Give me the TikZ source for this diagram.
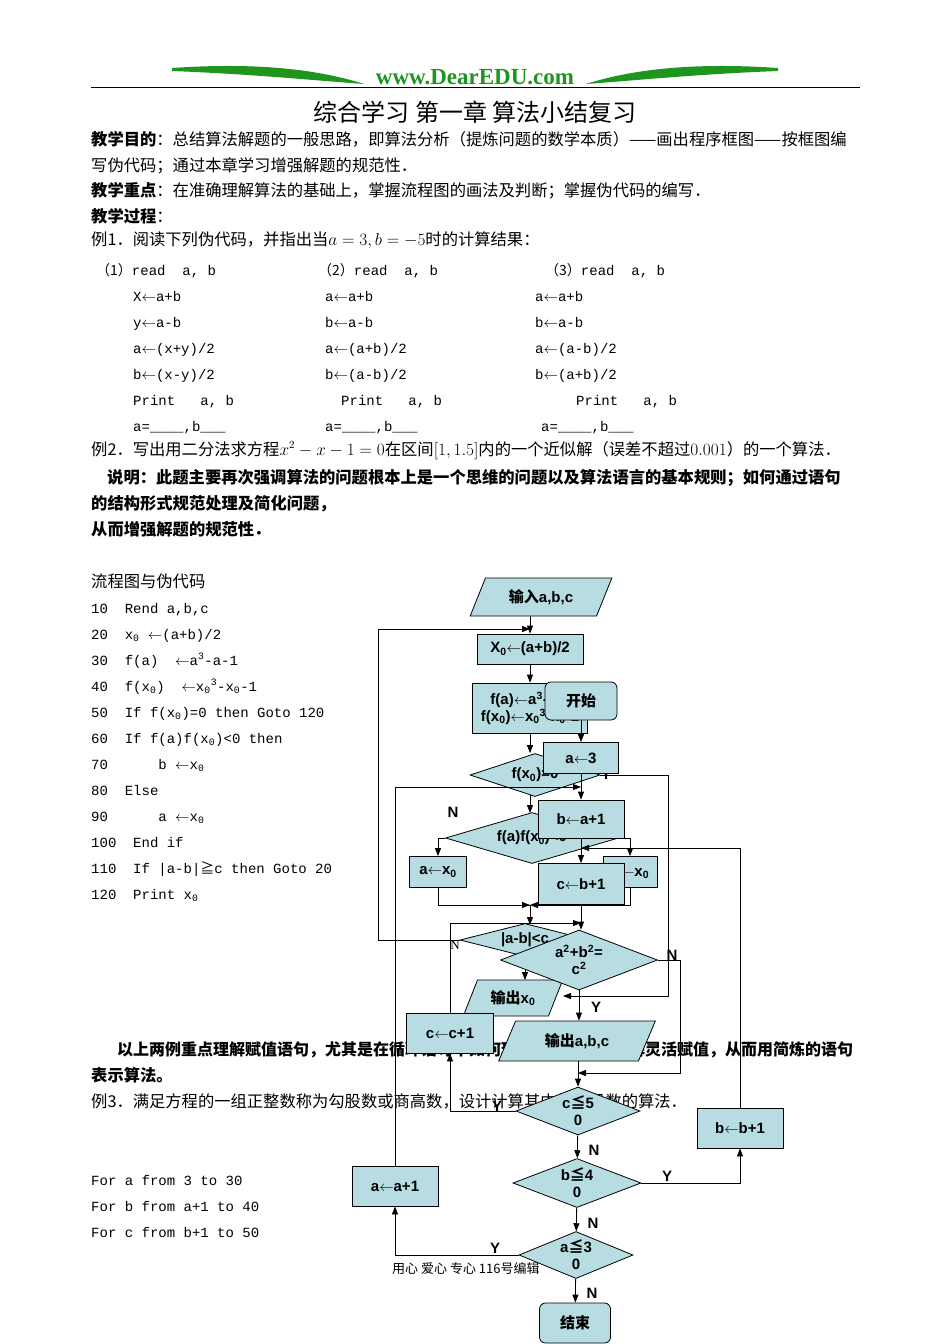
\documentclass[tikz,border=0pt]{standalone}
\usepackage{fontspec}
\setmainfont{Liberation Serif}
\setsansfont{Liberation Sans}
\setmonofont{Liberation Mono}
\newfontfamily\cjk{Noto Sans CJK SC}
\usetikzlibrary{shapes.geometric,arrows.meta}
\definecolor{fc}{RGB}{183,221,226}
\definecolor{dgreen}{RGB}{30,150,30}
\begin{document}
\begin{tikzpicture}[x=1pt,y=-1pt,
  txt/.style={anchor=base west,inner sep=0,font=\fontsize{16.3}{18}\selectfont\cjk},
  code/.style={anchor=base west,inner sep=0,font=\fontsize{14}{17}\selectfont\ttfamily},
  box/.style={draw,fill=fc,inner sep=1pt,font=\fontsize{15}{17}\selectfont\sffamily\bfseries,line width=0.8pt},
  rbox/.style={box,rounded corners=6pt},
  dia/.style={draw,fill=fc,diamond,aspect=2.6,inner sep=0,font=\fontsize{15}{17}\selectfont\sffamily\bfseries,line width=0.8pt,align=center},
  para/.style={draw,fill=fc,trapezium,trapezium left angle=60,trapezium right angle=120,trapezium stretches=true,inner sep=0,font=\fontsize{15}{17}\selectfont\sffamily\bfseries,line width=0.8pt},
  arr/.style={line width=0.8pt,-{Triangle[length=8pt,width=6pt]}},
  ln/.style={line width=0.8pt},
  lab/.style={inner sep=0,font=\fontsize{15}{17}\selectfont\sffamily\bfseries}]
\useasboundingbox[fill=white] (0,0) rectangle (950,1344);
% header
\fill[dgreen] (172,68) .. controls (260,62) and (320,70) .. (364,84) .. controls (310,80) and (250,74) .. (172,71) -- cycle;
\fill[dgreen] (778,68) .. controls (690,62) and (630,70) .. (586,84) .. controls (640,80) and (700,74) .. (778,71) -- cycle;
\node[inner sep=0,text=dgreen,font=\fontsize{23}{24}\selectfont\bfseries] (web) at (475,77) {www.DearEDU.com};
\draw[line width=1pt] (91,87) -- (860,87);
\node[inner sep=0,font=\fontsize{24}{26}\selectfont\cjk] (title) at (475,112) {综合学习 第一章 算法小结复习};
\node[txt] (t1) at (91,145) {{\bfseries 教学目的}：总结算法解题的一般思路，即算法分析（提炼问题的数学本质）——画出程序框图——按框图编};
\node[txt] (t2) at (91,171) {写伪代码；通过本章学习增强解题的规范性．};
\node[txt] (t3) at (91,196) {{\bfseries 教学重点}：在准确理解算法的基础上，掌握流程图的画法及判断；掌握伪代码的编写．};
\node[txt] (t4) at (91,222) {{\bfseries 教学过程}：};
\node[txt] (t5) at (91,245) {例1．阅读下列伪代码，并指出当$a=3,b=-5$时的计算结果：};
% code columns
\node[code] (c1a) at (96,275) {{\cjk （1）}read~~a,~b};
\node[code] (c1b) at (133,301) {X$\leftarrow$a+b};
\node[code] (c1c) at (133,327) {y$\leftarrow$a-b};
\node[code] (c1d) at (133,353) {a$\leftarrow$(x+y)/2};
\node[code] (c1e) at (133,379) {b$\leftarrow$(x-y)/2};
\node[code] (c1f) at (133,405) {Print~~~a,~b};
\node[code] (c1g) at (133,431) {a=\_\_\_\_,b\_\_\_};
\node[code] (c2a) at (318,275) {{\cjk （2）}read~~a,~b};
\node[code] (c2b) at (325,301) {a$\leftarrow$a+b};
\node[code] (c2c) at (325,327) {b$\leftarrow$a-b};
\node[code] (c2d) at (325,353) {a$\leftarrow$(a+b)/2};
\node[code] (c2e) at (325,379) {b$\leftarrow$(a-b)/2};
\node[code] (c2f) at (341,405) {Print~~~a,~b};
\node[code] (c2g) at (325,431) {a=\_\_\_\_,b\_\_\_};
\node[code] (c3a) at (545,275) {{\cjk （3）}read~~a,~b};
\node[code] (c3b) at (535,301) {a$\leftarrow$a+b};
\node[code] (c3c) at (535,327) {b$\leftarrow$a-b};
\node[code] (c3d) at (535,353) {a$\leftarrow$(a-b)/2};
\node[code] (c3e) at (535,379) {b$\leftarrow$(a+b)/2};
\node[code] (c3f) at (576,405) {Print~~~a,~b};
\node[code] (c3g) at (541,431) {a=\_\_\_\_,b\_\_\_};
\node[txt] (t6) at (91,455) {例2．写出用二分法求方程$x^2-x-1=0$在区间$\left[1,1.5\right]$内的一个近似解（误差不超过$0.001$）的一个算法．};
\node[txt] (t7) at (107,483) {\bfseries 说明：此题主要再次强调算法的问题根本上是一个思维的问题以及算法语言的基本规则；如何通过语句};
\node[txt] (t8) at (91,509) {\bfseries 的结构形式规范处理及简化问题，};
\node[txt] (t9) at (91,535) {\bfseries 从而增强解题的规范性．};
\node[txt] (t10) at (91,587) {流程图与伪代码};
\node[code] (p1) at (91,613) {10~~Rend a,b,c};
\node[code] (p2) at (91,639) {20~~x\textsubscript{0} $\leftarrow$(a+b)/2};
\node[code] (p3) at (91,665) {30~~f(a)~~$\leftarrow$a\textsuperscript{3}-a-1};
\node[code] (p4) at (91,691) {40~~f(x\textsubscript{0})~~$\leftarrow$x\textsubscript{0}\textsuperscript{3}-x\textsubscript{0}-1};
\node[code] (p5) at (91,717) {50~~If f(x\textsubscript{0})=0 then Goto 120};
\node[code] (p6) at (91,743) {60~~If f(a)f(x\textsubscript{0})<0 then};
\node[code] (p7) at (91,769) {70~~~~~~b $\leftarrow$x\textsubscript{0}};
\node[code] (p8) at (91,795) {80~~Else};
\node[code] (p9) at (91,821) {90~~~~~~a $\leftarrow$x\textsubscript{0}};
\node[code] (p10) at (91,847) {100~~End if};
\node[code] (p11) at (91,873) {110~~If |a-b|{\cjk ≧}c then Goto 20};
\node[code] (p12) at (91,899) {120~~Print x\textsubscript{0}};
% ---------- program 1 (bisection) ----------
\node[para,minimum width=142,minimum height=38] (in) at (541,597) {{\cjk\bfseries 输入}a,b,c};
\node[box,minimum width=106,minimum height=30] (x0) at (530,649) {X\textsubscript{0}$\leftarrow$(a+b)/2};
\node[box,minimum width=115,minimum height=50,align=center] (fa) at (530,708) {f(a)$\leftarrow$a\textsuperscript{3}-a-1\\f(x\textsubscript{0})$\leftarrow$x\textsubscript{0}\textsuperscript{3}-x\textsubscript{0}-1};
\node[dia,minimum width=130,minimum height=43] (fx) at (535,775) {f(x\textsubscript{0})=0};
\node[dia,minimum width=173,minimum height=51] (fab) at (532,838) {f(a)f(x\textsubscript{0})<0};
\node[box,minimum width=57,minimum height=31] (axo) at (438,872) {a$\leftarrow$x\textsubscript{0}};
\node[box,minimum width=54,minimum height=31] (bxo) at (630,872) {b$\leftarrow$x\textsubscript{0}};
\node[dia,minimum width=130,minimum height=33] (dab) at (525,940) {|a-b|<c};
\node[para,minimum width=100,minimum height=36] (ox) at (513,998) {{\cjk\bfseries 输出}x\textsubscript{0}};
\coordinate (j1) at (530,629);
\coordinate (j3) at (530,905);
\draw[arr] (x0.north |- in.south) -- (x0.north);
\draw[arr] (x0) -- (fa);
\draw[arr] (fa.south) -- (fa.south |- fx.north);
\draw[arr] (530,795) -- (530,813);
\draw[arr] (fab.west) -| (axo.north);
\draw[arr] (fab.east) -| (bxo.north);
\draw[ln] (axo.south) |- (j3);
\draw[arr] (bxo.south) |- (j3);
\draw[arr] (axo.south |- j3) -- (j3);
\draw[arr] (j3) -- (530,925);
\draw[arr] (dab.west) -- (378,940) -- (378,629) -- (j1);
\draw[arr] (fx.east) -- (668,775) -- (668,996) -- (563,996);
\draw[arr] (dab.south) -- (525,980);
\node[lab] (nfx) at (453,812) {N};
\node[lab,font=\fontsize{13}{14}\selectfont] (ndab) at (455,945) {N};
\node[lab] (yfx) at (606,774) {Y};
% text between
\node[txt,font=\fontsize{16}{18}\selectfont\cjk] (t11) at (117,1055) {\bfseries 以上两例重点理解赋值语句，尤其是在循环语句中如何理解赋值语句，理解灵活赋值，从而用简炼的语句};
\node[txt] (t12) at (91,1081) {\bfseries 表示算法。};
\node[txt] (t13) at (91,1107) {例3．满足方程的一组正整数称为勾股数或商高数，设计计算其中的勾股数的算法．};
\node[code] (f1) at (91,1185) {For a from 3 to 30};
\node[code] (f2) at (91,1211) {For b from a+1 to 40};
\node[code] (f3) at (91,1237) {For c from b+1 to 50};
\node[txt,font=\fontsize{13}{15}\selectfont\cjk] (foot) at (392,1273) {用心 爱心 专心 116号编辑};
% ---------- program 2 (Pythagorean) ----------
\node[rbox,minimum width=72,minimum height=38] (st) at (581,701) {\cjk 开始};
\node[box,minimum width=75,minimum height=31] (a3) at (581,758) {a$\leftarrow$3};
\node[box,minimum width=86,minimum height=38] (ba1) at (581,819) {b$\leftarrow$a+1};
\node[box,minimum width=86,minimum height=41] (cb1) at (581,884) {c$\leftarrow$b+1};
\node[dia,minimum width=157,minimum height=60] (py) at (579,960) {a\textsuperscript{2}+b\textsuperscript{2}=\\c\textsuperscript{2}\hspace{1.5em}};
\node[para,minimum width=157,minimum height=40] (oabc) at (577,1041) {{\cjk\bfseries 输出}a,b,c};
\node[dia,minimum width=124,minimum height=48] (c50) at (578,1111) {c{\cjk ≦}5\\0};
\node[dia,minimum width=128,minimum height=49] (b40) at (577,1183) {b{\cjk ≦}4\\0};
\node[dia,minimum width=114,minimum height=47] (a30) at (576,1255) {a{\cjk ≦}3\\0};
\node[rbox,minimum width=71,minimum height=40] (en) at (575,1323) {\cjk 结束};
\node[box,minimum width=87,minimum height=40] (cc1) at (450,1033) {c$\leftarrow$c+1};
\node[box,minimum width=86,minimum height=40] (bb1) at (740,1128) {b$\leftarrow$b+1};
\node[box,minimum width=86,minimum height=40] (aa1) at (395,1186) {a$\leftarrow$a+1};
\coordinate (j4) at (581,787);
\coordinate (j5) at (581,848);
\coordinate (j6) at (581,923);
\coordinate (j7) at (578,1073);
\draw[arr] (st) -- (a3);
\draw[arr] (a3) -- (ba1);
\draw[arr] (ba1) -- (cb1);
\draw[arr] (cb1.south) -- (cb1.south |- py.north);
\draw[arr] (py.south) -- (py.south |- oabc.north);
\draw[arr] (oabc.south -| c50.north) -- (c50.north);
\draw[arr] (c50) -- (b40);
\draw[arr] (b40) -- (a30);
\draw[arr] (a30) -- (en);
\draw[arr] (py.east) -- (680,960) -- (680,1073) -- (j7);
\draw[arr] (c50.west) -| (cc1.south);
\draw[arr] (cc1.north) -- (450,923) -- (j6);
\draw[arr] (b40.east) -| (bb1.south);
\draw[arr] (bb1.north) -- (740,848) -- (j5);
\draw[arr] (a30.west) -| (aa1.south);
\draw[arr] (aa1.north) -- (395,787) -- (j4);
\node[lab] (npy) at (672,955) {N};
\node[lab] (ypy) at (596,1007) {Y};
\node[lab] (yc) at (497,1106) {Y};
\node[lab] (nc) at (594,1150) {N};
\node[lab] (yb) at (667,1176) {Y};
\node[lab] (nb) at (593,1223) {N};
\node[lab] (ya) at (495,1248) {Y};
\node[lab] (na) at (592,1293) {N};
\end{tikzpicture}
\end{document}
